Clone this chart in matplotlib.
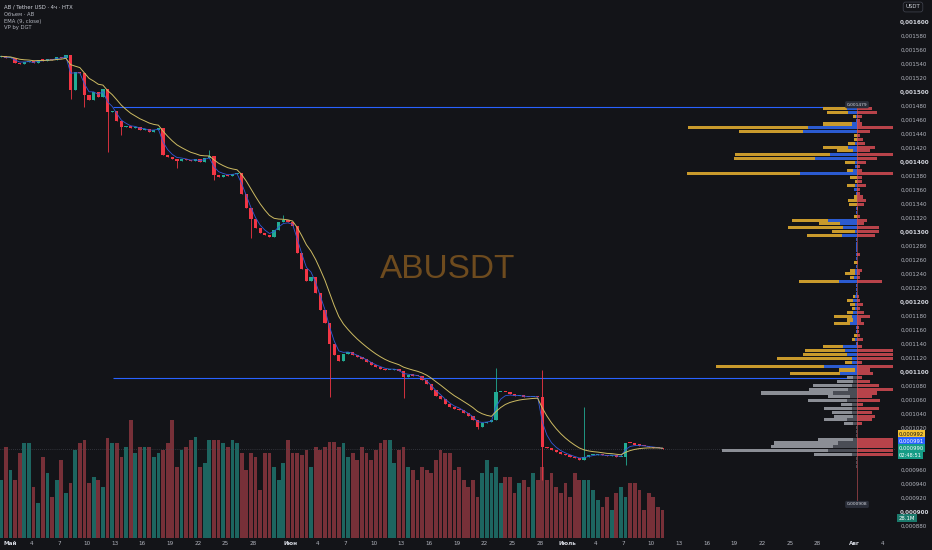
import matplotlib
matplotlib.use("Agg")
import matplotlib.pyplot as plt
from matplotlib.transforms import blended_transform_factory, offset_copy
import numpy as np
import pandas as pd

# ---------------- data ----------------
first_open_e6 = 1550
# 12h closes (x1e-6 USDT), first candle closes May 1 00:00
close_e6 = [
    1551, 1548, 1549, 1542, 1540, 1543, 1544, 1541, 1546, 1545,
    1547, 1546, 1550, 1549, 1553, 1503, 1528, 1527, 1496, 1489,
    1500, 1493, 1505, 1471, 1473, 1459, 1450, 1451, 1448, 1450,
    1446, 1447, 1443, 1446, 1448, 1410, 1407, 1404, 1402, 1405,
    1403, 1401, 1404, 1400, 1406, 1408, 1381, 1379, 1381, 1380,
    1383, 1384, 1355, 1335, 1318, 1306, 1299, 1296, 1293, 1303,
    1314, 1317, 1314, 1309, 1270, 1247, 1230, 1236, 1213, 1189,
    1170, 1140, 1124, 1116, 1126, 1129, 1125, 1121, 1118, 1114,
    1110, 1107, 1105, 1103, 1103, 1104, 1101, 1093, 1096, 1095,
    1094, 1089, 1083, 1074, 1066, 1062, 1055, 1050, 1047, 1046,
    1041, 1037, 1031, 1022, 1027, 1029, 1031, 1071, 1072, 1071,
    1068, 1066, 1066, 1065, 1064, 1065, 1064, 993, 991, 988,
    986, 983, 981, 979, 977, 975, 978, 981, 982, 983,
    981, 980, 982, 979, 979, 999, 998, 996, 995, 994,
    993, 992, 991, 990,
]
spike_idx = [15, 18, 23, 26, 38, 45, 46, 54, 61, 71, 87, 103, 107, 117, 126, 135]
spike_high_e6 = [0, 0, 0, 0, 0, 1417, 0, 0, 1324, 0, 0, 0, 1106, 1103, 1050, 0]
spike_low_e6 = [1490, 1479, 1414, 1439, 1391, 0, 1374, 1291, 0, 1064, 1063, 1019, 0, 946, 0, 967]

volume_m = [
    58, 91, 68, 58, 85, 95, 95, 51, 35, 81,
    65, 41, 58, 78, 45, 55, 88, 95, 98, 55,
    61, 58, 51, 100, 95, 95, 81, 91, 118, 85,
    91, 91, 91, 81, 85, 88, 95, 118, 71, 88,
    91, 98, 101, 71, 75, 98, 98, 98, 95, 91,
    98, 95, 85, 68, 85, 81, 48, 85, 85, 71,
    58, 75, 98, 85, 85, 83, 88, 71, 91, 88,
    91, 96, 96, 91, 95, 81, 85, 78, 91, 85,
    78, 88, 95, 98, 98, 75, 88, 91, 71, 68,
    58, 71, 68, 65, 78, 88, 85, 85, 68, 71,
    58, 51, 58, 41, 65, 78, 65, 71, 55, 61,
    61, 45, 55, 58, 51, 65, 58, 71, 58, 65,
    51, 45, 55, 41, 65, 58, 58, 58, 48, 38,
    31, 41, 28, 45, 51, 41, 55, 55, 48, 28,
    45, 41, 31, 28,
]

# volume profile (rows from top to bottom)
vp_high = 0.001479
vp_low = 0.000908
va_low = 0.001091
vp_start_day = 11.8
vp_center_day = 92.3
vp_outer = [
    24, 21, 3, 0, 29, 120, 64, 3, 3, 7,
    25, 16, 95, 81, 10, 0, 6, 113, 7, 2,
    8, 0, 0, 3, 9, 8, 0, 0, 3, 36,
    21, 55, 23, 35, 0, 0, 0, 0, 0, 0,
    3, 0, 5, 10, 4, 40, 0, 0, 0, 2,
    6, 5, 3, 6, 18, 6, 16, 0, 0, 3,
    3, 0, 20, 40, 44, 75, 7, 108, 16, 50,
    6, 16, 39, 39, 72, 22, 39, 11, 28, 20,
    19, 23, 9, 0, 0, 0, 35, 64, 62, 106,
    38, 0, 0, 0, 0, 0, 0, 0, 0, 0,
    0, 0, 0, 0,
]
vp_inner = [
    10, 9, 1, 1, 5, 49, 54, 0, 0, 2,
    9, 4, 27, 42, 2, 2, 4, 57, 0, 0,
    2, 3, 1, 0, 0, 0, 1, 1, 0, 29,
    17, 14, 2, 15, 1, 1, 1, 1, 1, 1,
    0, 1, 2, 2, 3, 18, 1, 1, 1, 2,
    4, 2, 2, 4, 5, 4, 7, 1, 1, 0,
    2, 1, 14, 12, 10, 5, 5, 33, 2, 17,
    4, 4, 5, 9, 24, 7, 10, 5, 5, 5,
    4, 10, 4, 1, 1, 1, 4, 19, 24, 29,
    5, 1, 1, 1, 0, 0, 0, 0, 0, 0,
    0, 0, 0, 0,
]
vp_right = [
    15, 20, 5, 3, 5, 36, 13, 3, 6, 8,
    18, 13, 36, 20, 9, 3, 5, 36, 5, 5,
    9, 3, 3, 6, 9, 7, 1, 0, 3, 10,
    7, 22, 22, 18, 0, 0, 0, 0, 3, 0,
    1, 0, 5, 3, 3, 25, 0, 0, 0, 2,
    3, 6, 3, 7, 13, 4, 7, 2, 2, 3,
    6, 1, 5, 36, 36, 36, 5, 36, 13, 16,
    5, 13, 22, 36, 20, 15, 23, 6, 22, 15,
    18, 15, 5, 0, 0, 0, 36, 36, 36, 36,
    36, 0, 0, 0, 0, 0, 0, 0, 0, 0,
    0, 0, 0, 0,
]

tick_days = [0, 3, 6, 9, 12, 15, 18, 21, 24, 27,
             31, 34, 37, 40, 43, 46, 49, 52, 55, 58,
             61, 64, 67, 70, 73, 76, 79, 82, 85, 88,
             92, 95]
tick_labels = ['Май', '4', '7', '10', '13', '16', '19', '22', '25', '28',
               'Июн', '4', '7', '10', '13', '16', '19', '22', '25', '28',
               'Июль', '4', '7', '10', '13', '16', '19', '22', '25', '28',
               'Авг', '4']
month_names = {'Май', 'Июн', 'Июль', 'Авг'}

# price-scale labels hidden behind the last-value tags
hidden_price_labels_e6 = [1000, 980]

tag_values = ['0,000992', '0,000991', '0,000990']
countdown = '02:48:51'
last_volume_label = '28.1M'

legend_lines = ['AB / Tether USD · 4ч · HTX', 'Объем · AB', 'EMA (9, close)', 'VP by DGT']

# ---------------- style ----------------
BG = '#131418'
UP = '#22ab94'
DN = '#f23645'
VUP = '#1d6560'
VDN = '#773038'
YEL = '#c99a2c'
BLU = '#2b5bd0'
GRY = '#8b8e95'
DGRY = '#4a4d55'
VRED = '#b8434a'
TXT = '#b2b5be'

W, H = 932, 550
pane_r, pane_b = 896, 538
rect = [0, (H - pane_b) / H, pane_r / W, pane_b / H]

fig = plt.figure(figsize=(W / 100, H / 100), dpi=100, facecolor=BG)
axv = fig.add_axes(rect, zorder=1)
ax = fig.add_axes(rect, zorder=2, sharex=axv)
axp = fig.add_axes(rect, zorder=3, sharey=ax)
for a in (axv, ax, axp):
    a.patch.set_visible(False)
    for s in a.spines.values():
        s.set_visible(False)

x_lo, x_hi = -0.378, 96.49
y_lo, y_hi = 0.00086286, 0.00163143

# ---------------- candles ----------------
close = np.array(close_e6) * 1e-6
open_ = np.concatenate([[first_open_e6 * 1e-6], close[:-1]])
n = len(close)
centers = -0.25 + 0.5 * np.arange(n)
high = np.maximum(open_, close)
low = np.minimum(open_, close)
for i, hh, ll in zip(spike_idx, spike_high_e6, spike_low_e6):
    if hh:
        high[i] = max(high[i], hh * 1e-6)
    if ll:
        low[i] = min(low[i], ll * 1e-6)
up = close >= open_
ccol = np.where(up, UP, DN)

# volume
axv.bar(centers, volume_m, width=0.40, color=np.where(up, VUP, VDN), linewidth=0)
axv.set_ylim(0, pane_b)
axv.set_xlim(x_lo, x_hi)
axv.set_yticks([])
axv.tick_params(axis='x', length=0, labelbottom=False)

# watermark
ax.text(0.5, 0.5, 'ABUSDT', transform=ax.transAxes, ha='center', va='center',
        fontsize=24, color='#6e4b1e', family='Liberation Sans', zorder=0.5)

ax.vlines(centers, low, high, colors=ccol, lw=0.6, zorder=3)
body = np.maximum(np.abs(close - open_), 1.5e-6)
ax.bar(centers, body, bottom=np.minimum(open_, close), width=0.36,
       color=ccol, linewidth=0, zorder=4)

ema_fast = pd.Series(close).ewm(span=3, adjust=False).mean()
ema_slow = pd.Series(close).ewm(span=9, adjust=False).mean()
ax.plot(centers, ema_fast, color='#3158d8', lw=0.6, zorder=5)
ax.plot(centers, ema_slow, color='#cdbb62', lw=0.7, zorder=5)

ax.hlines([vp_high, va_low], vp_start_day, vp_center_day, color='#2962ff', lw=0.8, zorder=2)
ax.axhline(close[-1], color='#4e515a', lw=0.5, ls=(0, (1, 2)), zorder=1)

ax.set_xlim(x_lo, x_hi)
ax.set_ylim(y_lo, y_hi)

# price axis
yt_e6 = list(range(880, 1601, 20))
yt = np.array(yt_e6) * 1e-6
ax.yaxis.tick_right()
ax.set_yticks(yt)
ax.set_yticklabels(['' if v in hidden_price_labels_e6 else f"{v * 1e-6:.6f}".replace('.', ',')
                    for v in yt_e6])
ax.tick_params(axis='y', length=0, pad=3, labelsize=4.1, labelcolor=TXT)
for v, lab in zip(yt_e6, ax.get_yticklabels()):
    if v % 100 == 0:
        lab.set_fontweight('bold')
        lab.set_color('#d1d4dc')

ax.set_xticks(tick_days)
ax.set_xticklabels(tick_labels)
ax.tick_params(axis='x', length=0, pad=2.5, labelsize=4.1, labelcolor=TXT)
for lab in ax.get_xticklabels():
    if lab.get_text() in month_names:
        lab.set_fontweight('bold')
        lab.set_color('#d1d4dc')
ax.get_xticklabels()[0].set_horizontalalignment('left')

# ---------------- volume profile ----------------
nrows = len(vp_outer)
step = (vp_high - vp_low) / nrows
row_c = vp_high - step * (np.arange(nrows) + 0.5)
in_va = (row_c - step / 2) >= va_low - 1e-12
outer = np.array(vp_outer, float)
inner = np.array(vp_inner, float)
right = np.array(vp_right, float)
hgt = step * 0.8
m = outer > 0
axp.barh(row_c[m], outer[m], left=-(outer[m] + inner[m]), height=hgt,
         color=np.where(in_va[m], YEL, GRY), linewidth=0)
m = inner > 0
axp.barh(row_c[m], inner[m], left=-inner[m], height=hgt,
         color=np.where(in_va[m], BLU, DGRY), linewidth=0)
m = right > 0
axp.barh(row_c[m], right[m], left=0, height=hgt, color=VRED, linewidth=0)
axp.vlines(0, vp_low, vp_high, color='#d0555c', lw=0.5, alpha=0.8)
axp.set_xlim(-857, pane_r - 857)
axp.axis('off')
for val in (vp_high, vp_low):
    axp.text(0, val, f"{val:.6f}".replace('.', ','), ha='center', va='bottom',
             fontsize=3.2, color='#d1d4dc',
             bbox=dict(boxstyle='round,pad=0.35', fc='#2a2e39', ec='none'))

# ---------------- price-axis tags ----------------
tr = blended_transform_factory(ax.transAxes, ax.transData)
last = close[-1]
tags = [(tag_values[0], 15, '#f2c232', '#131418'),
        (tag_values[1], 8, '#2962ff', '#ffffff'),
        (tag_values[2], 1, '#169c86', '#ffffff'),
        (countdown, -6, '#169c86', '#ffffff')]
for txt, dy, fc, tc in tags:
    t = offset_copy(tr, fig=fig, x=3, y=dy, units='dots')
    ax.text(1.0, last, txt, transform=t, ha='left', va='center', fontsize=3.7,
            color=tc, clip_on=False, zorder=10,
            bbox=dict(boxstyle='square,pad=0.2', fc=fc, ec='none'))

trv = blended_transform_factory(axv.transAxes, axv.transData)
t = offset_copy(trv, fig=fig, x=3, y=-8, units='dots')
axv.text(1.0, volume_m[-1], last_volume_label, transform=t, ha='left', va='center',
         fontsize=3.9, color='#ffffff', clip_on=False, zorder=10,
         bbox=dict(boxstyle='square,pad=0.3', fc='#1b7a6c', ec='none'))

# USDT box
fig.text(913 / W, 1 - 7 / H, 'USDT', ha='center', va='center', fontsize=3.9,
         color='#d1d4dc',
         bbox=dict(boxstyle='round,pad=0.45', fc=BG, ec='#434651', lw=0.5))

# legend
for i, line in enumerate(legend_lines):
    fig.text(4 / W, 1 - (7 + 7 * i) / H, line, ha='left', va='center',
             fontsize=3.8, color='#d1d4dc' if i == 0 else TXT)

fig.savefig('out.png', dpi=100, facecolor=BG)
